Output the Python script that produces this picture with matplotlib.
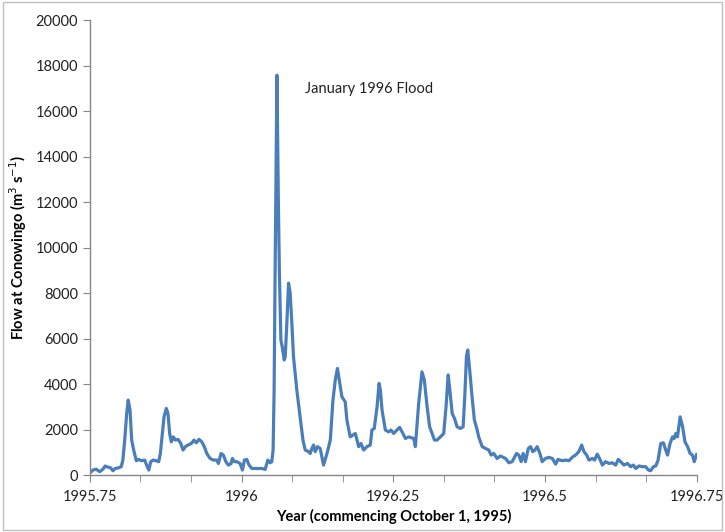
import matplotlib
matplotlib.use("Agg")
import matplotlib.pyplot as plt
from matplotlib.patches import Rectangle
import numpy as np

plt.rcParams['font.family'] = ['Lato', 'DejaVu Sans']

# days since October 1, 1995 (water year 1996) and flow (m3/s)
days = [0, 1.8, 3.8, 5.9, 7.9, 9.2, 10.9, 12.5, 13.9, 15.3, 17.3, 18.9, 19.9, 21.0, 22.2, 23.1,
        24.2, 25.2, 26.4, 28.0, 29.4, 31.0, 33.0, 34.2, 35.5, 36.7, 38.1, 40.0, 41.5, 42.5, 43.5,
        44.7, 46.1, 47.1, 48.1, 49.1, 50.3, 51.5, 53.2, 54.8, 56.2, 57.6, 59.2, 61.2, 62.8, 64.2,
        65.8, 67.5, 69.0, 70.5, 72.5, 74.5, 76.5, 77.5, 79.1, 80.5, 82.0, 83.5, 85.2, 85.9, 87.2,
        88.6, 90.6, 92.0, 93.2, 94.6, 96.0, 97.7, 99.7, 101.7, 103.7, 105.7, 107.3, 108.7, 109.7,
        110.5, 111.1, 111.6, 112.8, 113.7, 114.3, 115.2, 116.0, 117.2, 117.8, 118.8, 119.8, 120.8,
        121.8, 122.8, 124.8, 126.8, 128.5, 129.9, 131.9, 132.9, 133.9, 134.9, 135.9, 137.3, 138.9,
        140.9, 143.0, 145.0, 146.6, 148.0, 149.3, 152.0, 154.0, 155.0, 157.0, 158.7, 160.1, 162.1,
        163.5, 165.1, 167.1, 169.1, 170.1, 171.5, 173.2, 174.4, 175.2, 176.2, 178.2, 180.2, 181.6,
        183.2, 185.2, 186.8, 188.3, 190.3, 192.3, 195.3, 196.3, 198.3, 200.3, 201.7, 203.4, 204.9,
        206.4, 207.8, 209.4, 211.4, 213.4, 214.8, 216.1, 217.0, 218.5, 219.9, 221.5, 223.5, 225.1,
        226.1, 227.1, 227.9, 228.9, 230.5, 231.9, 233.6, 234.5, 236.6, 238.6, 240.6, 242.0, 243.6,
        245.6, 247.6, 248.7, 250.7, 252.7, 254.7, 257.3, 258.7, 260.1, 261.3, 262.7, 264.4, 265.8,
        267.1, 268.4, 269.8, 271.4, 272.8, 274.8, 276.8, 278.9, 280.9, 282.3, 284.9, 286.9, 288.9,
        290.9, 292.9, 294.9, 296.6, 298.0, 299.6, 301.0, 303.0, 304.4, 306.0, 307.4, 309.1, 311.1,
        313.1, 315.1, 317.1, 318.7, 320.1, 322.1, 324.2, 326.2, 327.8, 329.2, 331.2, 333.2, 335.2,
        336.9, 338.2, 339.9, 341.3, 342.7, 344.3, 345.9, 347.3, 348.4, 349.9, 351.4, 352.4, 353.4,
        354.4, 356.0, 357.5, 358.9, 360.5, 362.0, 363.4, 364.5, 365.9]
flow = [100, 220, 260, 150, 260, 400, 350, 320, 190, 290, 320, 370, 660, 1540, 2710, 3300,
        2860, 1540, 1100, 630, 690, 630, 660, 440, 220, 590, 660, 630, 590, 950, 1680,
        2560, 2930, 2710, 1830, 1460, 1680, 1540, 1570, 1390, 1100, 1250, 1320, 1390, 1540, 1420,
        1570, 1460, 1250, 950, 730, 660, 660, 510, 950, 880, 590, 440, 510, 730, 590,
        590, 510, 220, 660, 690, 440, 290, 290, 290, 290, 250, 660, 540, 590,
        1100, 3700, 8000, 17580, 11800, 8870, 5930, 5640, 5060, 5200, 6680, 8440, 8000,
        6680, 5200, 3740, 2560, 1540, 1100, 1030, 950, 1170, 1320, 1030, 1250, 1170,
        440, 950, 1540, 3300, 4180, 4690, 3440, 3220, 2420, 1680, 1760, 1830, 1250,
        1390, 1100, 1250, 1320, 1980, 2050, 3000, 4030, 3740, 2860, 1980, 1900, 1980,
        1830, 1980, 2100, 1900, 1610, 1680, 1610, 1250, 3150, 4540, 4180, 3000, 2120,
        1830, 1540, 1540, 1680, 1830, 3000, 4400, 3810, 2710, 2490, 2120, 2050, 2120,
        3440, 5200, 5500, 4760, 3440, 2420, 1980, 1680, 1250, 1170, 1100, 880, 950,
        730, 840, 800, 730, 540, 590, 950, 880, 590, 950, 590, 1170, 1250,
        1030, 1100, 1250, 950, 590, 730, 780, 730, 480, 690, 630, 660, 630,
        780, 880, 1030, 1320, 1030, 880, 660, 730, 660, 920, 730, 440, 590,
        510, 540, 440, 690, 590, 440, 510, 370, 440, 290, 400, 370, 370,
        220, 190, 370, 400, 660, 1390, 1420, 1100, 880, 1390, 1680, 1610, 1830,
        1680, 2560, 2120, 1460, 1250, 950, 880, 590, 900]

x_ticks = [1995.75, 1996.0, 1996.25, 1996.5, 1996.75]
x_tick_labels = ["1995.75", "1996", "1996.25", "1996.5", "1996.75"]
y_ticks = [0, 2000, 4000, 6000, 8000, 10000, 12000, 14000, 16000, 18000, 20000]

years = 1995.75 + np.array(days) / 366.0

fig = plt.figure(figsize=(7.25, 5.32), dpi=100)
ax = fig.add_axes([0.124, 0.107, 0.837, 0.855])

ax.plot(years, flow, color='#4A7EBB', lw=2.3, solid_joinstyle='round')

ax.set_xlim(1995.75, 1996.75)
ax.set_ylim(0, 20000)
ax.set_xticks(x_ticks)
ax.set_xticklabels(x_tick_labels)
ax.set_xticks(1995.75 + np.arange(13) / 12.0, minor=True)
ax.set_yticks(y_ticks)
ax.set_yticklabels([str(v) for v in y_ticks])

gray = '#868686'
for s in ['top', 'right']:
    ax.spines[s].set_visible(False)
for s in ['left', 'bottom']:
    ax.spines[s].set_color(gray)
    ax.spines[s].set_linewidth(1.0)
ax.tick_params(axis='both', which='both', direction='out', length=5, color=gray,
               labelsize=10.5, labelcolor='#222222')
ax.tick_params(axis='x', which='minor', length=5)
ax.tick_params(axis='x', pad=6)

ax.set_xlabel("Year (commencing October 1, 1995)", fontsize=10.5, fontweight='bold',
              labelpad=3)
ax.set_ylabel("Flow at Conowingo (m$^3$ s$^{-1}$)", fontsize=10.5, fontweight='bold',
              labelpad=5)

ax.text(1996.105, 16970, "January 1996 Flood", fontsize=10.5, va='center', ha='left',
        color='#222222')

fig.patches.append(Rectangle((0.004, 0.004), 0.992, 0.992, transform=fig.transFigure,
                             fill=False, edgecolor='#BFBFBF', lw=1.0))

fig.savefig("out.png", dpi=100)
